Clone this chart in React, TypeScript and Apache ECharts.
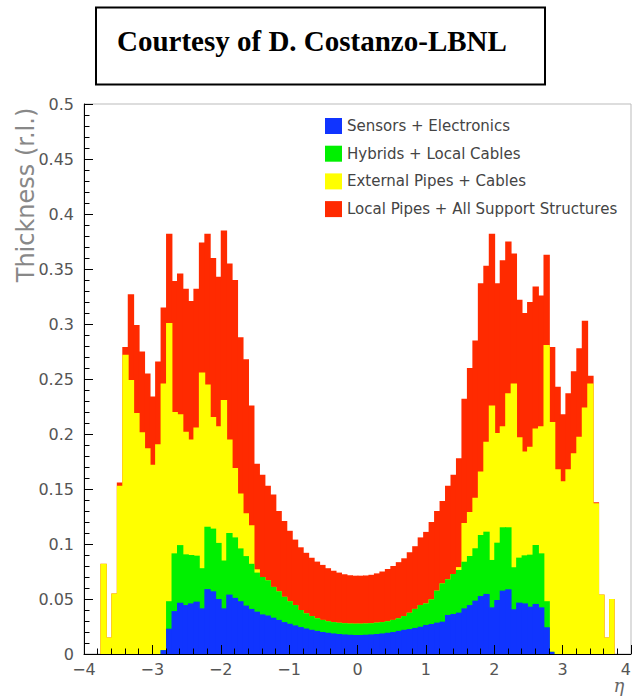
import React, { useEffect, useRef } from "react";
import * as echarts from "echarts";

// ---- data: 100 bins of width 0.08 in eta, from -4 to 4 ----
const ETA_MIN = -4;
const ETA_MAX = 4;
const BIN_WIDTH = 0.08;

const layerNames = [
  "Sensors + Electronics",
  "Hybrids + Local Cables",
  "External Pipes + Cables",
  "Local Pipes + All Support Structures",
];
const layerColors = ["#1034ff", "#00f000", "#ffff00", "#ff2a00"];

// cumulative (stacked) thickness, top of each layer
const topSensors = [
  0, 0, 0, 0, 0, 0, 0, 0, 0, 0,
  0, 0, 0, 0, 0.0035, 0.023, 0.039, 0.0466, 0.0445, 0.046,
  0.0476, 0.0415, 0.059, 0.057, 0.05, 0.0415, 0.054, 0.051, 0.048, 0.044,
  0.041, 0.0385, 0.036, 0.035, 0.033, 0.031, 0.029, 0.0275, 0.026, 0.0245,
  0.0232, 0.022, 0.021, 0.02, 0.0193, 0.0187, 0.0182, 0.0178, 0.0175, 0.0173,
  0.0173, 0.0175, 0.0178, 0.0182, 0.0187, 0.0193, 0.02, 0.021, 0.022, 0.0227,
  0.0237, 0.0248, 0.0264, 0.0273, 0.0285, 0.0294, 0.0355, 0.0364, 0.0376, 0.0415,
  0.0445, 0.0485, 0.0527, 0.0546, 0.0424, 0.0491, 0.0576, 0.0588, 0.0406, 0.0467,
  0.046, 0.043, 0.0455, 0.0424, 0.0243, 0.002, 0, 0, 0, 0,
  0, 0, 0, 0, 0, 0, 0, 0, 0, 0,
];

const topHybrids = [
  0, 0, 0, 0, 0, 0, 0, 0, 0, 0,
  0, 0, 0, 0, 0.0035, 0.048, 0.0915, 0.099, 0.0906, 0.09,
  0.0894, 0.078, 0.1157, 0.114, 0.101, 0.085, 0.11, 0.106, 0.096, 0.089,
  0.082, 0.074, 0.07, 0.067, 0.061, 0.057, 0.052, 0.048, 0.0445, 0.04,
  0.037, 0.0345, 0.0325, 0.031, 0.0298, 0.029, 0.0284, 0.028, 0.0277, 0.0276,
  0.0276, 0.0278, 0.028, 0.0285, 0.029, 0.0298, 0.031, 0.0325, 0.0345, 0.0375,
  0.041, 0.0445, 0.046, 0.0497, 0.0576, 0.0642, 0.0679, 0.0727, 0.0764, 0.0839,
  0.0891, 0.0961, 0.1082, 0.1112, 0.0855, 0.1012, 0.1152, 0.1152, 0.0788, 0.0876,
  0.0897, 0.0903, 0.0991, 0.0915, 0.048, 0.002, 0, 0, 0, 0,
  0, 0, 0, 0, 0, 0, 0, 0, 0, 0,
];

const topExternal = [
  0, 0, 0, 0.082, 0.015, 0.055, 0.153, 0.272, 0.249, 0.219,
  0.2015, 0.187, 0.172, 0.1906, 0.246, 0.301, 0.22, 0.218, 0.202, 0.195,
  0.206, 0.256, 0.245, 0.2155, 0.207, 0.231, 0.195, 0.169, 0.146, 0.128,
  0.117, 0.077, 0.07, 0.067, 0.061, 0.057, 0.052, 0.048, 0.0445, 0.04,
  0.037, 0.0345, 0.0325, 0.031, 0.0298, 0.029, 0.0284, 0.028, 0.0277, 0.0276,
  0.0276, 0.0278, 0.028, 0.0285, 0.029, 0.0298, 0.031, 0.0325, 0.0345, 0.0375,
  0.041, 0.0445, 0.046, 0.0497, 0.0576, 0.0642, 0.0679, 0.0727, 0.079, 0.119,
  0.129, 0.142, 0.166, 0.193, 0.226, 0.201, 0.207, 0.237, 0.246, 0.197,
  0.184, 0.1885, 0.205, 0.207, 0.281, 0.211, 0.168, 0.157, 0.168, 0.1825,
  0.1976, 0.224, 0.246, 0.137, 0.054, 0.015, 0.05, 0, 0, 0,
];

const topLocalPipes = [
  0, 0, 0, 0.082, 0.015, 0.055, 0.156, 0.279, 0.327, 0.299,
  0.275, 0.255, 0.234, 0.266, 0.315, 0.382, 0.339, 0.346, 0.332, 0.321,
  0.332, 0.374, 0.382, 0.36, 0.343, 0.385, 0.355, 0.34, 0.288, 0.268,
  0.226, 0.173, 0.163, 0.153, 0.145, 0.13, 0.121, 0.112, 0.104, 0.097,
  0.092, 0.0875, 0.084, 0.081, 0.078, 0.0757, 0.074, 0.0725, 0.0716, 0.0712,
  0.0712, 0.0714, 0.072, 0.0733, 0.075, 0.0773, 0.08, 0.0835, 0.087, 0.0925,
  0.098, 0.106, 0.111, 0.12, 0.13, 0.139, 0.153, 0.163, 0.178, 0.232,
  0.26, 0.285, 0.337, 0.353, 0.382, 0.337, 0.358, 0.375, 0.364, 0.322,
  0.31, 0.32, 0.334, 0.326, 0.363, 0.279, 0.243, 0.218, 0.237, 0.257,
  0.278, 0.303, 0.253, 0.138, 0.054, 0.015, 0.05, 0, 0, 0,
];

const TITLE = "Courtesy of D. Costanzo-LBNL";
const Y_TITLE = "Thickness (r.l.)";
const X_TITLE = "\u03b7";

export default function App() {
  const ref = useRef<HTMLDivElement>(null);

  useEffect(() => {
    if (!ref.current) return;
    const chart = echarts.init(ref.current, null, { renderer: "svg" });

    const layers = [
      { name: layerNames[3], color: layerColors[3], tops: topLocalPipes, z: 2 },
      { name: layerNames[2], color: layerColors[2], tops: topExternal, z: 3 },
      { name: layerNames[1], color: layerColors[1], tops: topHybrids, z: 4 },
      { name: layerNames[0], color: layerColors[0], tops: topSensors, z: 5 },
    ];

    const series = layers.map((l) => ({
      type: "custom",
      name: l.name,
      z: l.z,
      clip: true,
      itemStyle: { color: l.color },
      encode: { x: [0, 1], y: 2 },
      data: l.tops.map((v, i) => [
        ETA_MIN + i * BIN_WIDTH,
        ETA_MIN + (i + 1) * BIN_WIDTH,
        v,
      ]),
      renderItem: (params: any, api: any) => {
        const v = api.value(2);
        if (!v) return null;
        const p0 = api.coord([api.value(0), v]);
        const p1 = api.coord([api.value(1), 0]);
        const last = params.dataIndex === l.tops.length - 1 || !l.tops[params.dataIndex + 1];
        return {
          type: "rect",
          shape: {
            x: p0[0],
            y: p0[1],
            // overlap the next bin slightly so no seams show between bins
            width: p1[0] - p0[0] + (last ? 0 : 0.9),
            height: p1[1] - p0[1],
          },
          style: { fill: l.color, stroke: null, lineWidth: 0 },
        };
      },
    }));

    const tickFont = { fontFamily: "DejaVu Sans", fontSize: 16, color: "#555" };

    chart.setOption({
      animation: false,
      backgroundColor: "#ffffff",
      grid: {
        left: 84,
        right: 2,
        top: 104,
        bottom: 44,
        show: true,
        borderColor: "#bbbbbb",
        borderWidth: 1,
        backgroundColor: "transparent",
        containLabel: false,
        outerBoundsMode: "none",
      },
      legend: {
        show: true,
        orient: "vertical",
        left: 325,
        top: 118,
        padding: 0,
        itemWidth: 17,
        itemHeight: 16,
        itemGap: 11.7,
        icon: "rect",
        selectedMode: false,
        data: layerNames,
        itemStyle: { borderWidth: 0 },
        textStyle: { fontFamily: "DejaVu Sans", fontSize: 15, color: "#444" },
      },
      xAxis: {
        type: "value",
        min: ETA_MIN,
        max: ETA_MAX,
        interval: 1,
        z: 10,
        axisLine: { show: true, onZero: false, lineStyle: { color: "#000", width: 1 } },
        axisTick: { show: true, inside: true, length: 9, lineStyle: { color: "#000" } },
        minorTick: { show: true, splitNumber: 5, length: 5.5, lineStyle: { color: "#000" } },
        splitLine: { show: false },
        axisLabel: {
          ...tickFont,
          margin: 7,
          showMinLabel: true,
          showMaxLabel: true,
          hideOverlap: false,
          alignMaxLabel: "right",
          formatter: (v: number) => String(v).replace("-", "\u2212"),
        },
      },
      yAxis: {
        type: "value",
        min: 0,
        max: 0.5,
        interval: 0.05,
        z: 10,
        axisLine: { show: true, onZero: false, lineStyle: { color: "#000", width: 1 } },
        axisTick: { show: true, inside: true, length: 9, lineStyle: { color: "#000" } },
        minorTick: { show: true, splitNumber: 5, length: 5.5, lineStyle: { color: "#000" } },
        splitLine: { show: false },
        axisLabel: {
          ...tickFont,
          margin: 10,
          showMinLabel: true,
          showMaxLabel: true,
          formatter: (v: number) => String(parseFloat(v.toFixed(2))),
        },
      },
      graphic: [
        {
          type: "rect",
          z: 20,
          shape: { x: 96, y: 7.5, width: 449, height: 77 },
          style: { fill: "#ffffff", stroke: "#000000", lineWidth: 2 },
        },
        {
          type: "text",
          z: 21,
          x: 117,
          y: 41,
          style: {
            text: TITLE,
            fontFamily: "Liberation Serif",
            fontWeight: "bold",
            fontSize: 29,
            fill: "#000",
            textAlign: "left",
            textVerticalAlign: "middle",
          },
        },
        {
          type: "text",
          z: 21,
          x: 26,
          y: 195,
          rotation: Math.PI / 2,
          style: {
            text: Y_TITLE,
            fontFamily: "DejaVu Sans",
            fontSize: 24,
            fill: "#888",
            textAlign: "center",
            textVerticalAlign: "middle",
          },
        },
        {
          type: "text",
          z: 21,
          x: 619,
          y: 685,
          style: {
            text: X_TITLE,
            fontFamily: "DejaVu Serif",
            fontStyle: "italic",
            fontSize: 18,
            fill: "#666",
            textAlign: "center",
            textVerticalAlign: "middle",
          },
        },
      ],
      series,
    });

    return () => chart.dispose();
  }, []);

  return (
    <div
      ref={ref}
      style={{
        position: "fixed",
        left: 0,
        top: 0,
        width: 633,
        height: 698,
        background: "#fff",
      }}
    />
  );
}
